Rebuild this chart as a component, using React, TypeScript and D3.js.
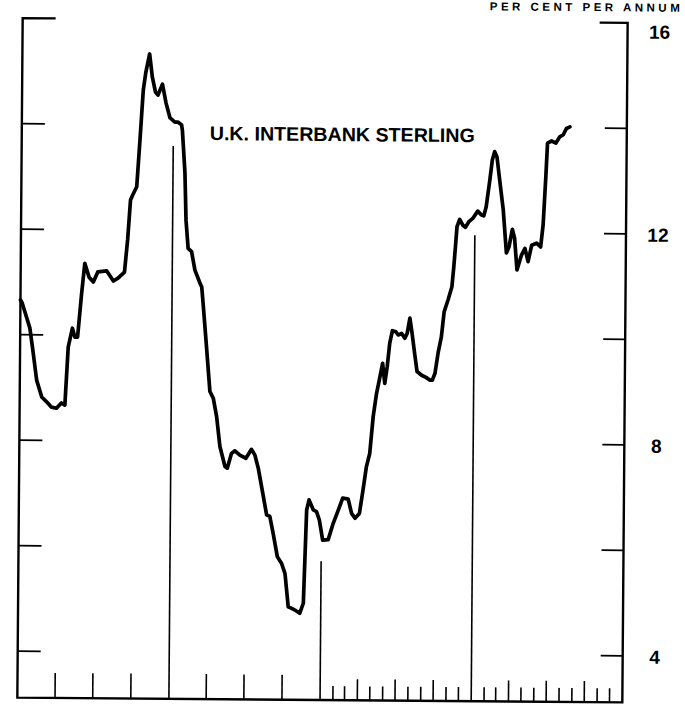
import * as d3 from "d3";

// weeks counted from 1 Jan 1976
const weeks = [
  0, 0.6, 2.2, 3.3, 4.4, 5.8, 7.6, 9.3, 11.0, 12.7, 14.4, 15.6, 16.6, 18.0, 18.9, 19.8, 21.1, 22.1, 23.6, 25.1, 26.6, 29.7, 32.0, 33.7, 35.8, 36.8,
  37.7, 38.4, 39.8, 40.8, 41.8, 42.6, 43.9, 44.9, 46.0, 46.9, 48.4, 49.7, 51.1, 52.8, 53.9, 55.1, 55.4, 56.4,
  56.9, 57.7, 58.9, 60.1, 61.9, 62.5, 63.0, 64.3, 65.6, 66.8, 68.0, 69.2, 71.0, 71.8, 73.2, 74.4, 76.1, 78.2, 80.1, 81.3,
  82.5, 83.7, 85.5, 86.6, 87.8, 89.3, 90.8, 92.0, 93.2, 94.4, 95.5, 97.2, 98.4, 99.3, 100.1, 101.6, 102.7, 103.7, 104.9, 106.8,
  108.5, 110.2, 111.7, 113.6, 114.8, 116.0, 117.5, 118.7, 119.8, 120.9, 122.0, 123.1, 124.0, 125.1, 125.9, 126.7, 127.5, 128.4,
  129.6, 130.4, 131.6, 132.7, 133.5, 134.4, 135.2, 136.2, 137.0, 138.6, 140.1, 141.4, 142.3, 143.2, 144.2, 145.3, 146.2, 147.5,
  148.8, 149.4, 150.0, 150.4, 151.3, 152.4, 153.3, 154.5, 155.8, 157.5, 158.7, 159.6, 160.4, 161.6, 162.4, 163.2, 164.0, 165.0, 166.3,
  167.5, 168.4, 169.5, 170.3, 171.2, 172.7, 173.9, 175.0, 176.2, 177.9, 179.3, 180.1, 180.9, 181.4, 182.8, 184.3, 185.6, 186.8, 187.9, 189.1,
];

const rates = [
  10.66, 10.6, 10.32, 10.13, 9.71, 9.14, 8.82, 8.73, 8.63, 8.61, 8.71, 8.67, 9.77, 10.13, 9.96, 9.96, 10.8, 11.36, 11.1, 11.01, 11.2, 11.22, 11.03, 11.09, 11.2, 11.81,
  12.57, 12.66, 12.82, 13.71, 14.65, 14.98, 15.34, 14.9, 14.62, 14.56, 14.77, 14.41, 14.13, 14.05, 14.05, 14.0, 13.9, 13.09,
  12.19, 11.66, 11.6, 11.25, 11.0, 10.93, 10.63, 9.8, 8.95, 8.82, 8.47, 7.91, 7.53, 7.5, 7.78, 7.83, 7.75, 7.69, 7.86, 7.75,
  7.5, 7.15, 6.62, 6.59, 6.27, 5.83, 5.7, 5.51, 4.88, 4.85, 4.82, 4.76, 4.95, 6.72, 6.91, 6.72, 6.69, 6.53, 6.15, 6.16,
  6.47, 6.72, 6.95, 6.93, 6.66, 6.57, 6.66, 7.11, 7.55, 7.8, 8.5, 8.94, 9.19, 9.51, 9.13, 9.45, 9.89, 10.13,
  10.11, 10.05, 10.08, 9.99, 10.08, 10.37, 10.08, 9.67, 9.36, 9.29, 9.25, 9.2, 9.2, 9.33, 9.71, 10.02, 10.5, 10.72,
  10.97, 11.35, 11.8, 12.11, 12.25, 12.14, 12.1, 12.21, 12.27, 12.41, 12.34, 12.32, 12.49, 13.0, 13.38, 13.54, 13.44, 13.0, 12.44,
  11.62, 11.74, 12.07, 11.9, 11.3, 11.58, 11.71, 11.46, 11.77, 11.81, 11.74, 12.16, 13.07, 13.71, 13.75, 13.71, 13.83, 13.87, 13.99, 14.02,
];

const rateTicks = [14, 12, 10, 8, 6, 4];
const rateLabels = [16, 12, 8, 4];
const yearLines = [1977, 1978, 1979];
const yearLineTops = [13.6, 5.75, 11.95];
const title = "U.K. INTERBANK STERLING";
const unitLabel = "PER CENT PER ANNUM";

const W = 685;
const H = 710;
const left = 20;
const right = 625;
const bottom = 700;

export default function App() {
  const start = new Date(1976, 0, 1);
  const end = new Date(1980, 0, 1);
  const x = d3.scaleTime().domain([start, end]).range([left, right]);
  const y = d3.scaleLinear().domain([4, 16]).range([653.5, 20.5]);

  const n = Math.min(weeks.length, rates.length);
  const pts: [Date, number][] = d3.range(n).map((i) => [new Date(start.getTime() + weeks[i] * 7 * 864e5), rates[i]]);

  const line = d3
    .line<[Date, number]>()
    .x((d) => x(d[0]))
    .y((d) => y(d[1]));

  const months = d3.timeMonth.range(d3.timeMonth.offset(start, 1), end).filter((m) => m.getMonth() !== 0);

  return (
    <svg
      width={W}
      height={H}
      style={{ position: "absolute", left: 0, top: 0, background: "#fff" }}
      fontFamily="'Liberation Sans', Arial, sans-serif"
    >
      {/* the original scan sits a little askew */}
      <g transform="rotate(0.45, 322, 360)">
        <path
          d={`M${left + 33},${y(16)} H${left} V${bottom} H${right} V${y(16)} H${right - 28}`}
          fill="none"
          stroke="#000"
          strokeWidth={2.4}
        />
        {rateTicks.map((v) => (
          <g key={v}>
            <line x1={left} x2={left + 23} y1={y(v)} y2={y(v)} stroke="#000" strokeWidth={1.8} />
            <line x1={right - 22} x2={right} y1={y(v)} y2={y(v)} stroke="#000" strokeWidth={1.8} />
          </g>
        ))}
        {rateLabels.map((v) => (
          <text
            key={v}
            x={657}
            y={y(v) + (v === 16 ? 9 : 1)}
            dy="0.35em"
            textAnchor="middle"
            fontSize={19}
            fontWeight="bold"
          >
            {v}
          </text>
        ))}
        {months.map((m) => {
          const q = m.getMonth() % 3 === 0;
          const early = m.getFullYear() < 1978;
          if (early && !q) return null;
          const len = early ? 25 : q ? 21 : 14;
          return (
            <line key={m.getTime()} x1={x(m)} x2={x(m)} y1={bottom} y2={bottom - len} stroke="#000" strokeWidth={1.6} />
          );
        })}
        {yearLines.map((yr, i) => (
          <line
            key={yr}
            x1={x(new Date(yr, 0, 1))}
            x2={x(new Date(yr, 0, 1))}
            y1={bottom}
            y2={y(yearLineTops[i])}
            stroke="#000"
            strokeWidth={1.6}
          />
        ))}
        <path
          d={line(pts) ?? ""}
          fill="none"
          stroke="#000"
          strokeWidth={3.7}
          strokeLinejoin="round"
          strokeLinecap="round"
        />
        <text x={208} y={141} fontSize={19.5} fontWeight="bold" textLength={265} lengthAdjust="spacingAndGlyphs">
          {title}
        </text>
        <text x={487} y={9} fontSize={11.5} fontWeight="bold" textLength={190} lengthAdjust="spacing">
          {unitLabel}
        </text>
      </g>
    </svg>
  );
}
